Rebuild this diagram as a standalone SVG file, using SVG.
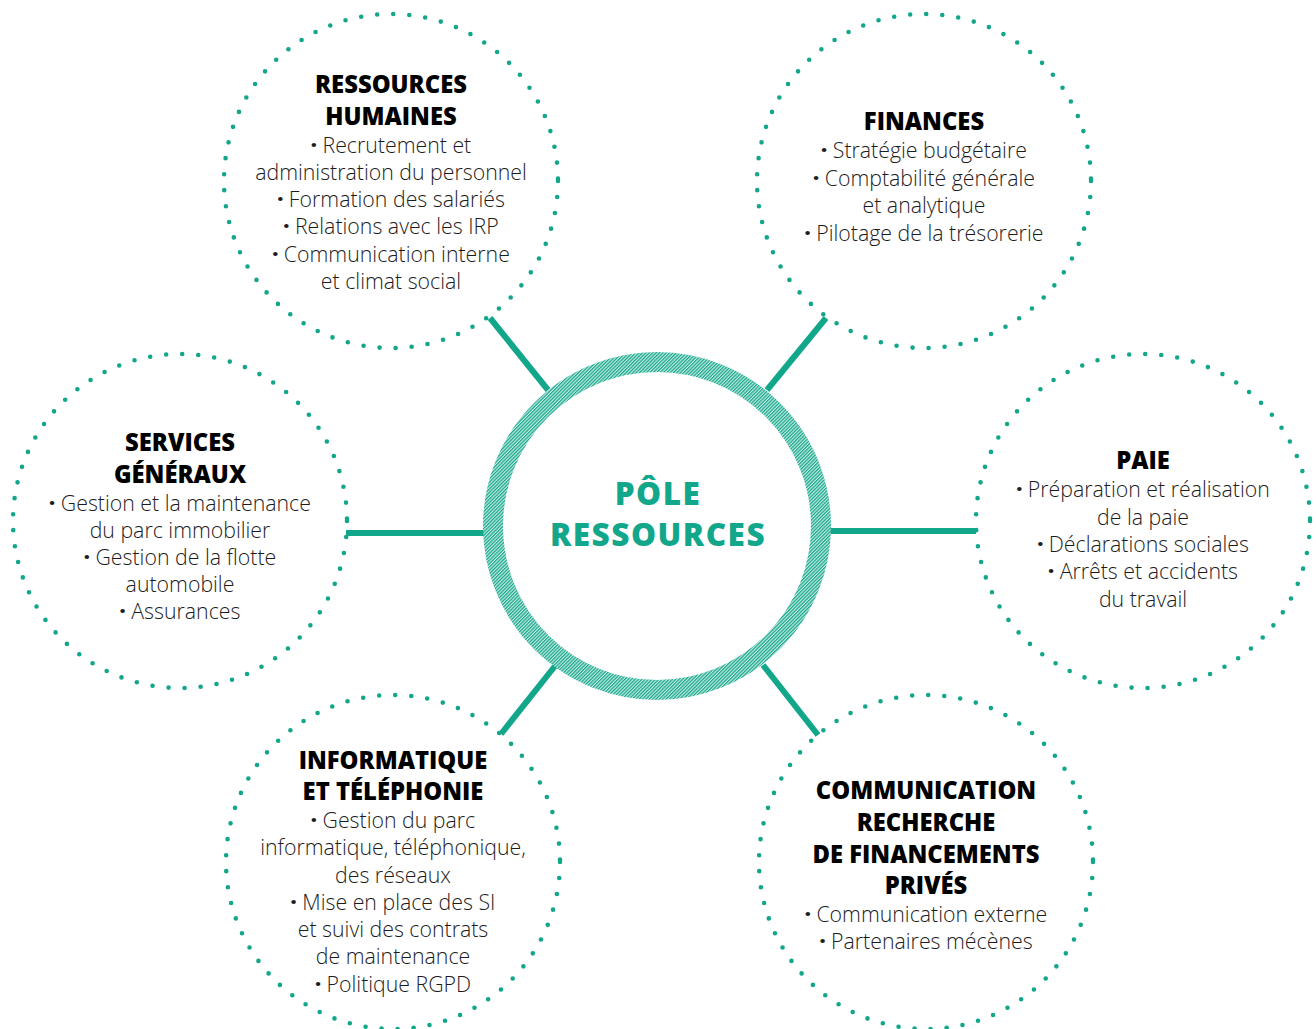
<svg xmlns="http://www.w3.org/2000/svg" width="1316" height="1029" viewBox="0 0 1316 1029">
<style>
.dot{fill:none;stroke:#12a68b;stroke-width:4.6;stroke-linecap:round;stroke-dasharray:0 16.1}
.h{font-family:"Open Sans","Noto Sans",sans-serif;font-weight:800;font-size:23.8px;fill:#000;text-anchor:middle}
.b{font-family:"Open Sans","Noto Sans",sans-serif;font-weight:300;font-size:21.3px;fill:#1c1c1c;text-anchor:middle}
.d{font-weight:800}
.c{stroke:#12a68b;stroke-width:6;fill:none}
.t{font-family:"Open Sans","Noto Sans",sans-serif;font-weight:800;font-size:31.5px;letter-spacing:1.5px;fill:#12a68b;text-anchor:middle}
</style>
<defs>
<pattern id="hatch" patternUnits="userSpaceOnUse" width="2.4" height="2.4" patternTransform="rotate(45)">
<rect width="2.4" height="2.4" fill="#c4eae1"/>
<rect width="1.2" height="2.4" fill="#12a68b"/>
</pattern>
</defs>
<rect width="1316" height="1029" fill="#fff"/>
<g id="connectors">
<line class="c" x1="490" y1="318" x2="548" y2="390"/>
<line class="c" x1="826" y1="318" x2="767" y2="390"/>
<line class="c" x1="346" y1="533" x2="486" y2="533"/>
<line class="c" x1="829" y1="531" x2="976" y2="531"/>
<line class="c" x1="501" y1="734" x2="555" y2="666"/>
<line class="c" x1="763" y1="665" x2="818" y2="735"/>
</g>
<g id="center">
<circle cx="657" cy="526" r="164" fill="#fff" stroke="url(#hatch)" stroke-width="20"/>
<text class="t" x="658" y="505">PÔLE</text>
<text class="t" x="658" y="546">RESSOURCES</text>
</g>
<g id="rh">
<circle class="dot" cx="391" cy="181" r="167"/>
<text class="h" x="391" y="93">RESSOURCES</text>
<text class="h" x="391" y="125">HUMAINES</text>
<text class="b" x="391" y="153"><tspan class="d">·</tspan> Recrutement et</text>
<text class="b" x="391" y="180">administration du personnel</text>
<text class="b" x="391" y="207"><tspan class="d">·</tspan> Formation des salariés</text>
<text class="b" x="391" y="234"><tspan class="d">·</tspan> Relations avec les IRP</text>
<text class="b" x="391" y="262"><tspan class="d">·</tspan> Communication interne</text>
<text class="b" x="391" y="289">et climat social</text>
</g>
<g id="finances">
<circle class="dot" cx="924" cy="181" r="167"/>
<text class="h" x="924" y="130">FINANCES</text>
<text class="b" x="924" y="158"><tspan class="d">·</tspan> Stratégie budgétaire</text>
<text class="b" x="924" y="186"><tspan class="d">·</tspan> Comptabilité générale</text>
<text class="b" x="924" y="213">et analytique</text>
<text class="b" x="924" y="241"><tspan class="d">·</tspan> Pilotage de la trésorerie</text>
</g>
<g id="services">
<circle class="dot" cx="180" cy="521" r="167"/>
<text class="h" x="180" y="451">SERVICES</text>
<text class="h" x="180" y="483">GÉNÉRAUX</text>
<text class="b" x="180" y="511"><tspan class="d">·</tspan> Gestion et la maintenance</text>
<text class="b" x="180" y="538">du parc immobilier</text>
<text class="b" x="180" y="565"><tspan class="d">·</tspan> Gestion de la flotte</text>
<text class="b" x="180" y="592">automobile</text>
<text class="b" x="180" y="619"><tspan class="d">·</tspan> Assurances</text>
</g>
<g id="paie">
<circle class="dot" cx="1143" cy="521" r="167"/>
<text class="h" x="1143" y="469">PAIE</text>
<text class="b" x="1143" y="497"><tspan class="d">·</tspan> Préparation et réalisation</text>
<text class="b" x="1143" y="525">de la paie</text>
<text class="b" x="1143" y="552"><tspan class="d">·</tspan> Déclarations sociales</text>
<text class="b" x="1143" y="579"><tspan class="d">·</tspan> Arrêts et accidents</text>
<text class="b" x="1143" y="607">du travail</text>
</g>
<g id="informatique">
<circle class="dot" cx="393" cy="862" r="167"/>
<text class="h" x="393" y="769">INFORMATIQUE</text>
<text class="h" x="393" y="800">ET TÉLÉPHONIE</text>
<text class="b" x="393" y="828"><tspan class="d">·</tspan> Gestion du parc</text>
<text class="b" x="393" y="855">informatique, téléphonique,</text>
<text class="b" x="393" y="883">des réseaux</text>
<text class="b" x="393" y="910"><tspan class="d">·</tspan> Mise en place des SI</text>
<text class="b" x="393" y="937">et suivi des contrats</text>
<text class="b" x="393" y="964">de maintenance</text>
<text class="b" x="393" y="992"><tspan class="d">·</tspan> Politique RGPD</text>
</g>
<g id="communication">
<circle class="dot" cx="926" cy="862" r="167"/>
<text class="h" x="926" y="799">COMMUNICATION</text>
<text class="h" x="926" y="831">RECHERCHE</text>
<text class="h" x="926" y="863">DE FINANCEMENTS</text>
<text class="h" x="926" y="894">PRIVÉS</text>
<text class="b" x="926" y="922"><tspan class="d">·</tspan> Communication externe</text>
<text class="b" x="926" y="949"><tspan class="d">·</tspan> Partenaires mécènes</text>
</g>
</svg>
